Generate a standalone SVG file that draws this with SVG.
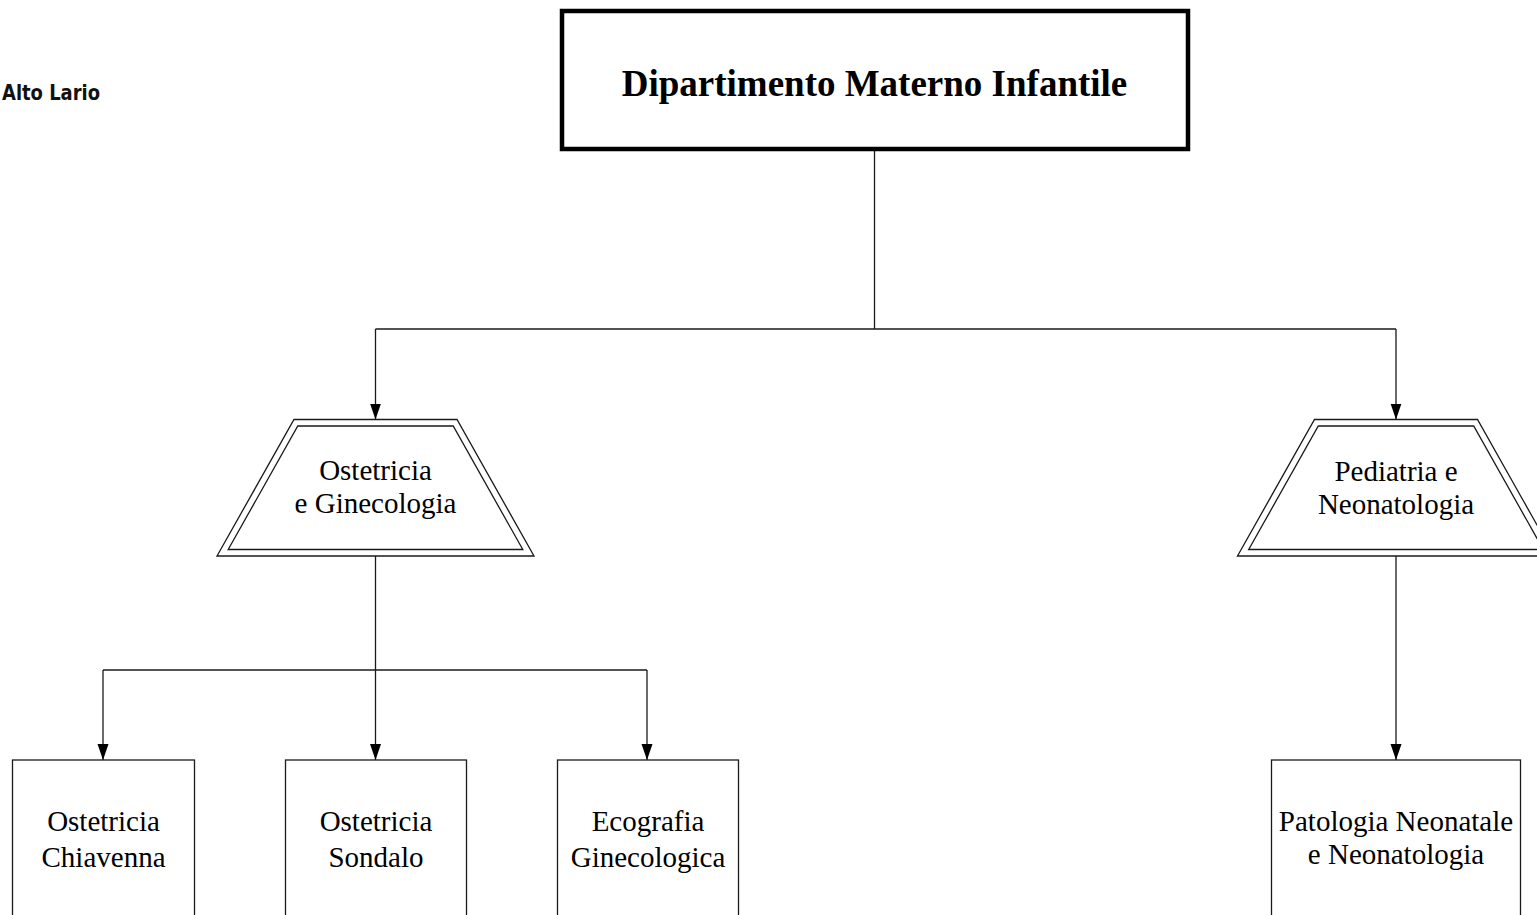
<svg xmlns="http://www.w3.org/2000/svg" width="1537" height="915" viewBox="0 0 1537 915">
  <style>
    .edge { fill: none; stroke: #1a1a1a; stroke-width: 1.3; }
    .shape { fill: #ffffff; stroke: #1a1a1a; stroke-width: 1.3; }
    .inner { fill: none; stroke: #1a1a1a; stroke-width: 1.3; }
    .lbl { font-family: "Liberation Serif", "Times New Roman", serif; font-size: 29px; fill: #000; text-anchor: middle; }
    .title { font-family: "Liberation Serif", "Times New Roman", serif; font-size: 37px; font-weight: bold; fill: #000; text-anchor: middle; }
  </style>
  <defs>
    <marker id="arrow" markerUnits="userSpaceOnUse" markerWidth="17" markerHeight="12" refX="16" refY="5.5" orient="auto">
      <path d="M0,0 L16,5.5 L0,11 z" fill="#000"/>
    </marker>
  </defs>
  <rect width="1537" height="915" fill="#ffffff"/>

  <!-- logo caption -->
  <text x="2" y="100" font-family="DejaVu Sans, sans-serif" font-size="22" font-weight="bold" textLength="98" lengthAdjust="spacingAndGlyphs" fill="#111">Alto Lario</text>

  <!-- connectors -->
  <g id="connectors">
    <path class="edge" d="M874.5,149 V329 M375.5,329 H1396"/>
    <path class="edge" d="M375.5,329 V419.5" marker-end="url(#arrow)"/>
    <path class="edge" d="M1396,329 V419.5" marker-end="url(#arrow)"/>
    <path class="edge" d="M103,670 H647"/>
    <path class="edge" d="M375.5,556 V760" marker-end="url(#arrow)"/>
    <path class="edge" d="M103,670 V760" marker-end="url(#arrow)"/>
    <path class="edge" d="M647,670 V760" marker-end="url(#arrow)"/>
    <path class="edge" d="M1396,556 V760" marker-end="url(#arrow)"/>
  </g>

  <!-- department head -->
  <g id="dipartimento">
    <rect x="562" y="11" width="626" height="138" fill="#ffffff" stroke="#000" stroke-width="4.5"/>
    <text class="title" x="874.5" y="96">Dipartimento Materno Infantile</text>
  </g>

  <!-- units -->
  <g id="ostetricia-ginecologia">
    <polygon class="shape" points="294,419.5 457,419.5 534,556 217,556"/>
    <polygon class="inner" points="297.8,426 453.2,426 522.8,549.5 228.2,549.5"/>
    <text class="lbl" x="375.5" y="480">Ostetricia</text>
    <text class="lbl" x="375.5" y="513">e Ginecologia</text>
  </g>

  <g id="pediatria-neonatologia">
    <polygon class="shape" points="1314.5,419.5 1477.5,419.5 1554.5,556 1237.5,556"/>
    <polygon class="inner" points="1318.3,426 1473.7,426 1543.3,549.5 1248.7,549.5"/>
    <text class="lbl" x="1396" y="481">Pediatria e</text>
    <text class="lbl" x="1396" y="514">Neonatologia</text>
  </g>

  <!-- services -->
  <g id="ostetricia-chiavenna">
    <rect class="shape" x="12.5" y="760" width="182" height="180"/>
    <text class="lbl" x="103.5" y="831">Ostetricia</text>
    <text class="lbl" x="103.5" y="867">Chiavenna</text>
  </g>

  <g id="ostetricia-sondalo">
    <rect class="shape" x="285.5" y="760" width="181" height="180"/>
    <text class="lbl" x="376" y="831">Ostetricia</text>
    <text class="lbl" x="376" y="867">Sondalo</text>
  </g>

  <g id="ecografia-ginecologica">
    <rect class="shape" x="557.5" y="760" width="181" height="180"/>
    <text class="lbl" x="648" y="831">Ecografia</text>
    <text class="lbl" x="648" y="867">Ginecologica</text>
  </g>

  <g id="patologia-neonatale">
    <rect class="shape" x="1271.5" y="760" width="249" height="180"/>
    <text class="lbl" x="1396" y="831">Patologia Neonatale</text>
    <text class="lbl" x="1396" y="864">e Neonatologia</text>
  </g>
</svg>
